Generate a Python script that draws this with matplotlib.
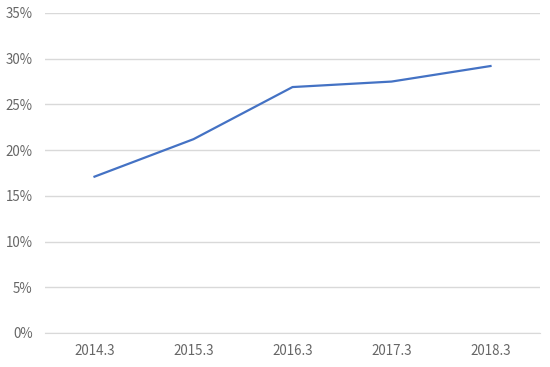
import matplotlib.pyplot as plt
from matplotlib.ticker import FuncFormatter

plt.rcParams['font.family'] = ['Noto Sans CJK JP', 'DejaVu Sans']

# データ
years = ['2014.3', '2015.3', '2016.3', '2017.3', '2018.3']
ratios = [17.1, 21.2, 26.9, 27.5, 29.2]
y_ticks = [0, 5, 10, 15, 20, 25, 30, 35]

fig = plt.figure(figsize=(5.5, 3.67), dpi=100)
ax = fig.add_axes([45 / 550, 1 - 333 / 367, 495 / 550, 320 / 367])

x = list(range(len(years)))
ax.plot(x, ratios, color='#4472C4', linewidth=1.6, solid_joinstyle='round')

ax.set_xlim(-0.5, len(years) - 0.5)
ax.set_ylim(0, 35)
ax.set_yticks(y_ticks)
ax.yaxis.set_major_formatter(FuncFormatter(lambda v, p: f'{v:.0f}%'))
ax.set_xticks(x)
ax.set_xticklabels(years)

ax.grid(axis='y', color='#D9D9D9', linewidth=1)
ax.set_axisbelow(True)
for s in ['top', 'right', 'left']:
    ax.spines[s].set_visible(False)
ax.spines['bottom'].set_color('#D9D9D9')
ax.tick_params(length=0, colors='#666666', labelsize=9.6)
ax.tick_params(axis='y', pad=9)
ax.tick_params(axis='x', pad=8)

fig.savefig('out.png')
